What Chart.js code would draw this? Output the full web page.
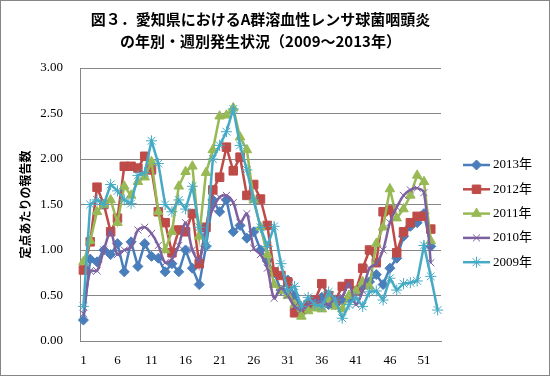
<!DOCTYPE html>
<html>
<head>
<meta charset="utf-8">
<script src="https://cdn.jsdelivr.net/npm/chart.js@4.4.0/dist/chart.umd.min.js"></script>
<style>
  html, body { margin: 0; padding: 0; background: #fff; }
</style>
</head>
<body>
<canvas id="grafico" width="550" height="376"></canvas>
<script>
// 週番号（カテゴリ）
const semanas = ['1','2','3','4','5','6','7','8','9','10','11','12','13','14','15','16','17','18','19','20',
  '21','22','23','24','25','26','27','28','29','30','31','32','33','34','35','36','37','38','39','40',
  '41','42','43','44','45','46','47','48','49','50','51','52','53'];

// 定点あたりの報告数（年別）
const datos2013 = [0.23, 0.90, 0.87, 1.00, 0.95, 1.07, 0.76, 1.09, 0.82, 1.07,
  0.93, 0.91, 0.76, 0.85, 0.76, 1.00, 0.80, 0.62, 1.04, 1.55,
  1.42, 1.55, 1.20, 1.27, 1.13, 1.20, 1.00, 0.88, 0.75, 0.56,
  0.67, 0.50, 0.36, 0.42, 0.45, 0.48, 0.40, 0.40, 0.45, 0.47,
  0.55, 0.60, 0.65, 0.73, 0.62, 0.80, 0.91, 1.15, 1.26, 1.30,
  1.40, 1.04];
const datos2012 = [0.78, 1.09, 1.69, 1.50, 1.20, 1.35, 1.92, 1.92, 1.90, 2.03,
  1.88, 1.42, 1.30, 0.97, 1.22, 1.20, 1.40, 0.85, 1.25, 1.66,
  1.80, 2.13, 1.87, 2.02, 1.60, 1.72, 1.56, 1.27, 0.76, 0.72,
  0.65, 0.31, 0.35, 0.40, 0.45, 0.63, 0.50, 0.45, 0.60, 0.63,
  0.55, 0.80, 1.00, 0.86, 1.42, 1.44, 0.97, 1.20, 1.30, 1.37,
  1.37, 1.23];
const datos2011 = [0.87, 1.10, 1.42, 1.50, 1.55, 1.30, 1.70, 1.60, 1.75, 1.80,
  1.97, 1.42, 1.00, 1.20, 1.70, 1.86, 1.92, 1.15, 1.85, 2.10,
  2.47, 2.48, 2.56, 2.24, 2.10, 1.55, 1.25, 0.95, 0.62, 0.55,
  0.50, 0.40, 0.27, 0.33, 0.36, 0.35, 0.45, 0.38, 0.35, 0.50,
  0.55, 0.65, 0.60, 1.07, 1.25, 1.67, 1.35, 1.45, 1.60, 1.82,
  1.75, 1.10];
const datos2010 = [0.30, 0.77, 0.77, 1.00, 1.20, 0.95, 1.00, 1.03, 1.22, 1.25,
  1.18, 1.05, 0.86, 0.90, 1.05, 1.30, 1.00, 0.88, 1.25, 1.45,
  1.58, 1.60, 1.52, 1.30, 1.40, 1.02, 0.95, 0.80, 0.47, 0.58,
  0.50, 0.38, 0.34, 0.40, 0.45, 0.42, 0.40, 0.47, 0.49, 0.63,
  0.40, 0.55, 0.80, 0.85, 1.00, 1.30, 1.47, 1.60, 1.66, 1.68,
  1.63, 0.86];
const datos2009 = [0.38, 1.50, 1.55, 1.50, 1.72, 1.65, 1.55, 1.51, 1.82, 1.85,
  2.20, 1.95, 1.50, 1.42, 1.55, 1.45, 1.70, 1.25, 1.05, 2.00,
  2.15, 2.30, 2.55, 2.15, 1.88, 1.55, 1.25, 1.04, 1.26, 0.85,
  0.55, 0.60, 0.38, 0.48, 0.40, 0.38, 0.54, 0.45, 0.25, 0.40,
  0.48, 0.38, 0.54, 0.55, 0.45, 0.69, 0.56, 0.63, 0.64, 0.66,
  1.05, 0.71, 0.34];

const tituloLineas = ['図３．愛知県におけるA群溶血性レンサ球菌咽頭炎', 'の年別・週別発生状況（2009～2013年）'];
const tituloEje = '定点あたりの報告数';

const fuenteSerif = '"Liberation Serif", "DejaVu Serif", serif';
const fuenteJp = '"Noto Sans CJK JP", sans-serif';

function serie(label, data, color, estilo, radio, orden, tension) {
  return {
    label: label,
    data: data,
    borderColor: color,
    backgroundColor: color,
    borderWidth: 2.5,
    pointStyle: estilo,
    pointRadius: radio,
    pointBackgroundColor: color,
    pointBorderColor: color,
    pointBorderWidth: 1,
    tension: tension || 0,
    order: orden
  };
}

// 背景と外枠
const fondoPlugin = {
  id: 'fondo',
  beforeDraw(chart) {
    const ctx = chart.ctx;
    ctx.save();
    ctx.fillStyle = '#fff';
    ctx.fillRect(0, 0, chart.width, chart.height);
    ctx.strokeStyle = '#868686';
    ctx.lineWidth = 1;
    ctx.strokeRect(0.5, 0.5, chart.width - 1, chart.height - 1);
    ctx.restore();
  }
};

// 右側の凡例（線＋マーカー）
const leyendaPlugin = {
  id: 'leyenda',
  afterDraw(chart) {
    const ctx = chart.ctx;
    chart.data.datasets.forEach((ds, i) => {
      const y = 165 + i * 24.3;
      ctx.save();
      ctx.strokeStyle = ds.borderColor;
      ctx.lineWidth = ds.borderWidth;
      ctx.beginPath();
      ctx.moveTo(463, y);
      ctx.lineTo(490, y);
      ctx.stroke();
      ctx.fillStyle = ds.pointBackgroundColor;
      ctx.strokeStyle = ds.pointBorderColor;
      ctx.lineWidth = 1;
      if (Chart.helpers && Chart.helpers.drawPoint) {
        Chart.helpers.drawPoint(ctx, { pointStyle: ds.pointStyle, radius: ds.pointRadius, borderWidth: 1, rotation: 0 }, 476.5, y);
      }
      ctx.fillStyle = '#000';
      ctx.font = '13px ' + fuenteSerif + ', "Noto Sans CJK JP"';
      ctx.textBaseline = 'middle';
      ctx.textAlign = 'left';
      ctx.fillText(ds.label, 493, y);
      ctx.restore();
    });
  }
};

const ctx = document.getElementById('grafico').getContext('2d');
new Chart(ctx, {
  type: 'line',
  data: {
    labels: semanas,
    datasets: [
      serie('2013年', datos2013, '#4A7EBB', 'rectRot', 5, 5),
      serie('2012年', datos2012, '#BE4B48', 'rect', 6, 4),
      serie('2011年', datos2011, '#98B954', 'triangle', 5.5, 3),
      serie('2010年', datos2010, '#7D60A0', 'crossRot', 5, 2, 0.3),
      serie('2009年', datos2009, '#46AAC5', 'star', 5.5, 1)
    ]
  },
  options: {
    responsive: false,
    animation: false,
    layout: { padding: { left: 0, right: 109, top: 0, bottom: 0 } },
    plugins: {
      legend: { display: false },
      tooltip: { enabled: false },
      title: {
        display: true,
        text: tituloLineas,
        fullSize: false,
        color: '#000',
        font: { family: fuenteJp, size: 15, weight: 'bold', lineHeight: 1.5 },
        padding: { top: 8, bottom: 15 }
      }
    },
    scales: {
      x: {
        offset: true,
        grid: { display: false },
        border: { color: '#868686', width: 1 },
        ticks: {
          autoSkip: false,
          maxRotation: 0,
          padding: 4,
          color: '#000',
          font: { family: fuenteSerif, size: 13 },
          callback: function(v, i) { return i % 5 === 0 ? semanas[i] : ''; }
        },
        afterFit: function(s) { s.height = 35; }
      },
      y: {
        min: 0,
        max: 3,
        grid: { color: '#868686', drawTicks: false },
        border: { color: '#868686', width: 1 },
        ticks: {
          stepSize: 0.5,
          padding: 17,
          color: '#000',
          font: { family: fuenteSerif, size: 13 },
          callback: function(v) { return Number(v).toFixed(2); }
        },
        title: {
          display: true,
          text: tituloEje,
          color: '#000',
          font: { family: fuenteJp, size: 12, weight: 'bold' },
          padding: { top: 18, bottom: 0 }
        },
        afterFit: function(s) { s.width = 80; }
      }
    }
  },
  plugins: [fondoPlugin, leyendaPlugin]
});
</script>
</body>
</html>
